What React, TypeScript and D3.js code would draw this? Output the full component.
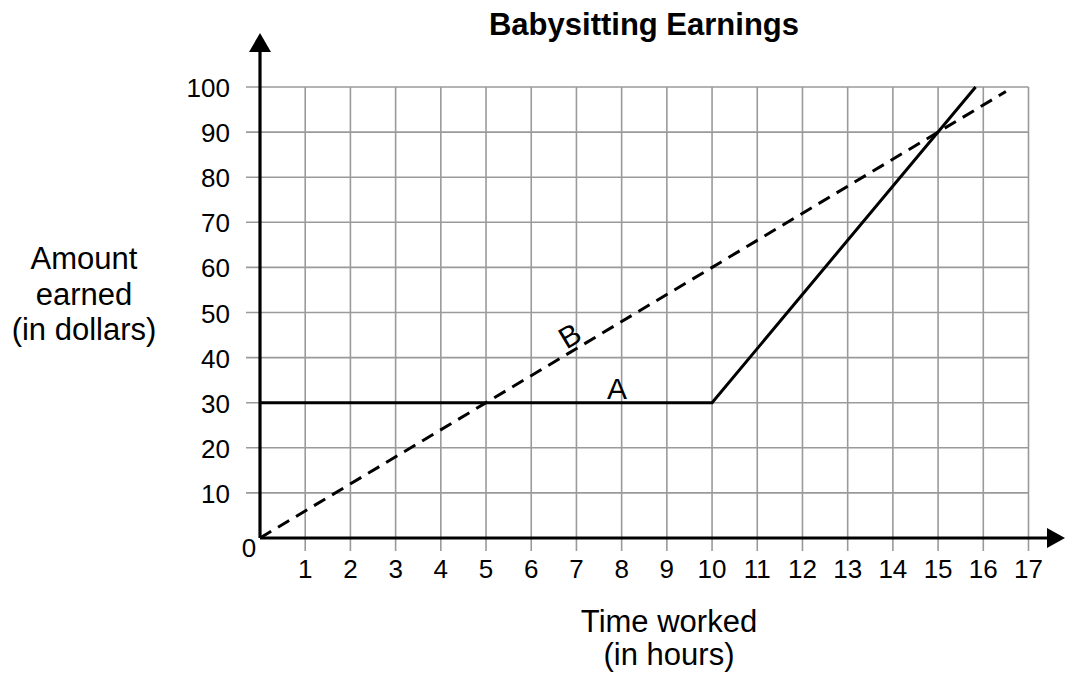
import React, { useEffect, useRef } from 'react';
import * as d3 from 'd3';

// chart data
const xTicks = [1, 2, 3, 4, 5, 6, 7, 8, 9, 10, 11, 12, 13, 14, 15, 16, 17];
const yTicks = [10, 20, 30, 40, 50, 60, 70, 80, 90, 100];
const hoursA = [0, 10, 15.83];
const amountA = [30, 30, 100];
const hoursB = [0, 16.5];
const amountB = [0, 99];

const FONT = '"Liberation Sans", Arial, Helvetica, sans-serif';

const App = () => {
    const svgRef = useRef<SVGSVGElement>(null);

    useEffect(() => {
        const svg = d3.select(svgRef.current);
        svg.selectAll('*').remove();

        const x = d3.scaleLinear().domain([0, 17]).range([260, 1028.5]);
        const y = d3.scaleLinear().domain([0, 100]).range([538, 87]);

        // grid
        const grid = svg.append('g').attr('stroke', '#9a9a9a').attr('stroke-width', 1.6);
        grid.selectAll('line.v')
            .data(xTicks)
            .enter()
            .append('line')
            .attr('x1', d => x(d)).attr('x2', d => x(d))
            .attr('y1', y(100)).attr('y2', y(0) + 13);
        grid.selectAll('line.h')
            .data(yTicks)
            .enter()
            .append('line')
            .attr('x1', x(0) - 14).attr('x2', x(17))
            .attr('y1', d => y(d)).attr('y2', d => y(d));

        // tick labels
        svg.append('g')
            .selectAll('text')
            .data(xTicks)
            .enter()
            .append('text')
            .attr('x', d => x(d))
            .attr('y', y(0) + 40)
            .attr('text-anchor', 'middle')
            .attr('font-size', 26)
            .text(d => d);
        svg.append('g')
            .selectAll('text')
            .data(yTicks)
            .enter()
            .append('text')
            .attr('x', x(0) - 30)
            .attr('y', d => y(d) + 10)
            .attr('text-anchor', 'end')
            .attr('font-size', 26)
            .text(d => d);
        svg.append('text')
            .attr('x', x(0) - 11).attr('y', y(0) + 19)
            .attr('text-anchor', 'middle')
            .attr('font-size', 26)
            .text('0');

        // axes with arrows
        svg.append('line')
            .attr('x1', x(0)).attr('x2', x(0))
            .attr('y1', y(0)).attr('y2', 50)
            .attr('stroke', '#000').attr('stroke-width', 3.2);
        svg.append('path')
            .attr('d', `M${x(0)},33 L${x(0) - 11},52 L${x(0) + 11},52 Z`)
            .attr('fill', '#000');
        svg.append('line')
            .attr('x1', x(0)).attr('x2', 1050)
            .attr('y1', y(0)).attr('y2', y(0))
            .attr('stroke', '#000').attr('stroke-width', 3.2);
        svg.append('path')
            .attr('d', `M1065,${y(0)} L1047,${y(0) - 10} L1047,${y(0) + 10} Z`)
            .attr('fill', '#000');

        // lines
        svg.append('path')
            .attr('d', d3.line<number>().x(d => x(d)).y((d, i) => y(amountA[i]))(hoursA))
            .attr('fill', 'none').attr('stroke', '#000').attr('stroke-width', 3);
        svg.append('path')
            .attr('d', d3.line<number>().x(d => x(d)).y((d, i) => y(amountB[i]))(hoursB))
            .attr('fill', 'none').attr('stroke', '#000').attr('stroke-width', 3)
            .attr('stroke-dasharray', '13,8');

        // line labels
        const angle = (Math.atan2(y(amountB[1]) - y(amountB[0]), x(hoursB[1]) - x(hoursB[0])) * 180) / Math.PI;
        svg.append('text')
            .attr('transform', `translate(${x(6.85)},${y(44.9)}) rotate(${angle})`)
            .attr('text-anchor', 'middle')
            .attr('dominant-baseline', 'central')
            .attr('font-size', 30)
            .text('B');
        svg.append('text')
            .attr('x', x(7.9)).attr('y', y(30) - 4)
            .attr('text-anchor', 'middle')
            .attr('font-size', 30)
            .text('A');

        // titles
        svg.append('text')
            .attr('x', 644).attr('y', 35)
            .attr('text-anchor', 'middle')
            .attr('font-size', 31)
            .attr('font-weight', 'bold')
            .text('Babysitting Earnings');
        const xLab = svg.append('text').attr('text-anchor', 'middle').attr('font-size', 31);
        xLab.append('tspan').attr('x', 669).attr('y', 632).text('Time worked');
        xLab.append('tspan').attr('x', 669).attr('y', 665).text('(in hours)');
        const yLab = svg.append('text').attr('text-anchor', 'middle').attr('font-size', 31);
        yLab.append('tspan').attr('x', 84).attr('y', 269).text('Amount');
        yLab.append('tspan').attr('x', 84).attr('y', 305).text('earned');
        yLab.append('tspan').attr('x', 84).attr('y', 340).text('(in dollars)');
    }, []);

    return (
        <svg
            ref={svgRef}
            width={1065}
            height={673}
            style={{ position: 'absolute', left: 0, top: 0, background: '#fff', fontFamily: FONT }}
        />
    );
};

export default App;
